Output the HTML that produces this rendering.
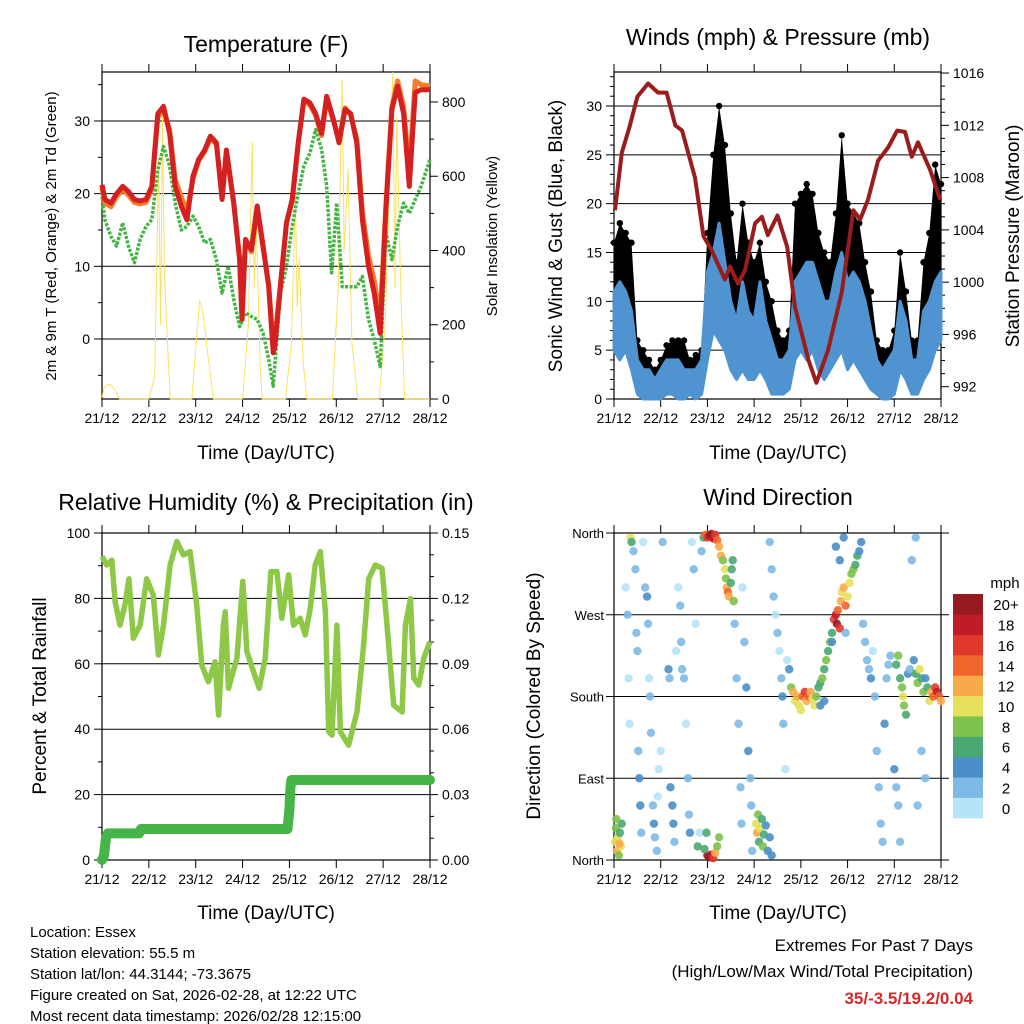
<!DOCTYPE html>
<html><head><meta charset="utf-8"><style>
html,body{margin:0;padding:0;background:#fff;}
svg{display:block;font-family:"Liberation Sans",Arial,sans-serif;}
</style></head><body>
<svg id="chart" width="1024" height="1024" viewBox="0 0 1024 1024" xmlns="http://www.w3.org/2000/svg"></svg>
<script>
// ---------- DATA ----------
const dayLabels = ["21/12","22/12","23/12","24/12","25/12","26/12","27/12","28/12"];
// Temperature (F)
const tempHours = [0,1.5,4.6,7.5,10.6,13.5,16.6,19.5,22.6,25.5,28.6,31.5,34.6,37.5,40.6,43.5,46.6,49.5,52.6,55.5,58.6,61.5,63.7,67.5,70.5,71.7,73.5,76.5,79.5,82.5,85.4,87.7,88.5,91.4,94.5,97.4,100.5,103.4,106.5,109.4,112.5,115.1,118.5,121.4,124.5,127.4,130.5,133.4,136.5,139.4,142.5,145.4,148.5,151.4,154.5,157.4,160.4,163.4,168];
const temp9m = [21.2,19.2,18.7,20,21,20.3,19.2,19,19.2,21,31,32,28.3,21,18.3,16.4,22.4,24.7,26,27.9,27,19.2,26,18.7,10.9,2.7,13.7,12.3,18.3,12.8,7.2,-1.9,-1,7.2,16,19.2,27,33,32.5,31,28.3,33.4,30.2,27,31.6,31,27,16.4,10,6.3,0.8,17.8,31.6,34.8,31,21,33.9,34.3,34.3];
const temp2m = [20.8,18.7,18.2,19.6,20.6,19.8,18.8,18.6,18.8,20.6,30.5,31.5,28.8,22,19.5,17.5,22,24.5,25.8,27.6,26.8,19.5,25.8,18.5,11.2,3.5,13.5,12,18,12.5,7.5,-1,0,7.5,16,19,26.8,32.8,32.2,30.8,28,33,30,27.5,31.8,30.8,27.5,17.5,11.5,8,3,18.5,32,35.5,32,23,35.5,35,34.8];
const dewHours = [0,1.5,4.6,7.5,10.6,13.5,16.6,19.5,22.6,25.5,28.6,31.5,34.6,37.5,40.6,43.5,46.6,49.5,52.6,55.5,58.6,61.5,64.6,67.5,70.5,73.5,76.5,79.5,82.5,85.4,87.7,91.4,94.5,97.4,100.5,103.4,106.5,109.4,112.5,115.1,117.6,120.2,123.1,126.2,130.5,133.4,136.5,139.4,142.5,145.4,148.5,151.4,154.5,157.4,160.4,163.4,168];
const dewPoint = [19.6,16.4,14.1,12.8,16,12.8,10.5,13.7,15.5,16.4,23.3,26.5,23.8,18.7,15,15.5,16.9,15.5,13.2,13.7,10.9,6.3,10,5.4,1.7,3.6,3.1,2.7,0.8,-2.8,-6.5,6.3,10,15.5,20.1,23.8,25.6,28.8,26.1,21,9.1,18.7,7.2,7.2,7.2,8.6,2.7,-0.1,-3.8,14.6,10.9,15.5,18.7,17.3,19.2,21,24.7];
const solarHours = [0,1,3,5,7,9,24,27,29,30,31,32,34,35,46,50,51,52,54,57,72,75,77,78,79,81,82,94,97,99,100,101,103,105,118,121,123,124,126,128,131,142,145,149,150,151,153,155,168];
const solarValues = [5,30,40,35,20,0,0,60,640,200,760,330,100,0,0,265,250,220,130,0,0,200,690,300,480,100,0,0,150,545,250,380,100,0,0,300,860,400,620,150,0,0,200,880,300,760,300,0,0];
const tempTicks = [0,10,20,30];
const solarTicks = [0,200,400,600,800];
// Winds & pressure
const windHours = [0,3,6,9,12,15,18,21,24,27,30,33,36,39,42,45,48,51,54,57,60,63,66,69,72,75,78,81,84,87,90,93,96,99,102,105,108,111,114,117,120,123,126,129,132,135,138,141,144,147,150,153,156,159,162,165,168];
const sonicLow = [5,4,5,3,0.5,0,0,0,0,0.5,0.5,0,0,0.5,0,0.5,4,7,6,5,3,2,3,2,2,3,2,0.5,0.5,0.5,1,4,5,4,5,3,2,3,4,5,3,4,3,2,1,0.5,0,0,0.5,3,2,0.5,0.5,2,3,5,6];
const sonicHigh = [11,12,11,9,4,3,3,2,3,4,4,4,3,3,3,4,13,15,18,14,10,8,12,9,8,12,8,6,4,4,5,12,13,14,14,12,10,10,13,15,12,13,12,10,7,4,3,4,5,10,8,4,4,9,10,12,13];
const gustHigh = [16,18,17,16,6,5,4,3,4,5.5,6,6,6,4,4.5,5,17,25,30,26,19,14,20,16,14,16,12,10,7,6,7,20,21,22,21,17,15,14,19,27,20,19,18,14,11,6,5,5,7,15,11,6,6,14,17,24,22];
const pressHours = [0.5,4,8,12,17.5,22.6,27,31.5,35,41.6,46,50,57,59.6,63.7,67.3,72.5,76,79,84,89,93,100,104,110,117,123,126.5,130.5,135.7,140.8,145.5,149.5,153,156.2,162.4,167.6];
const pressure = [1005.5,1009.9,1011.9,1014.2,1015.2,1014.5,1014.5,1012,1011.6,1008,1003.5,1002.5,1000.2,1001.2,999.9,1000.9,1004.5,1005,1003.6,1005.1,1002.7,998.1,994,992.3,994.8,999.2,1005.5,1004.8,1006.3,1009.3,1010.3,1011.6,1011.5,1009.6,1010.7,1008.6,1006.3];
const windTicks = [0,5,10,15,20,25,30];
const pressTicks = [992,996,1000,1004,1008,1012,1016];
// RH & precip
const rhHours = [0,2.4,5,6.7,9.2,11.8,13.8,16.1,19.5,22.9,26.3,28.9,31.5,34.9,38.3,41.7,45.1,48.5,51.1,54.5,57.9,59.7,62.2,63.1,64.8,69.1,72.1,74.2,77.6,80.5,83.6,86.5,89.6,92.1,95.6,98.1,101.5,104.1,106.7,109.2,111.8,114.4,116.1,117.8,120.3,122.1,126.3,130.6,134,136.6,140,143.4,146,149.4,153.7,155.4,158,159.7,162.2,164.8,168];
const rhValues = [92.8,90.2,91.7,79,71.8,78,86,67.8,71.8,86,81,62.7,71.8,90.2,97.4,93.3,94.3,78,59.6,54.5,60.6,44.3,71.8,75.9,52.5,61.7,85.2,63.7,57.6,52.5,61.7,88.2,88.2,73.9,87.2,71.8,73.9,68.8,77,90.2,94.3,75.9,39.2,38.2,71.8,39.2,35.1,45.3,65.7,86,90.2,89.2,71.8,47.3,45.3,71.8,79.9,55.6,53.5,61.7,66.8];
const precipHours = [0,1,2,3,19,20,95,95.5,96,96.5,97,168];
const precipValues = [0,0.002,0.010,0.0122,0.0122,0.0142,0.0142,0.019,0.023,0.033,0.0367,0.0367];
const rhTicks = [0,20,40,60,80,100];
const precipTicks = ["0.00","0.03","0.06","0.09","0.12","0.15"];
// Wind direction (deg, 0=N) colored by speed
const dirHours = [0.5,1,1.5,2,2.5,3,3.5,4,1.2,2.8,8.5,9,
6,7,7.5,8,10,11,11.5,12,12.5,13,13.5,14,15,16,17,17.5,18,18.5,19,20,20.5,21,22,22.5,23,24,25,28,28.5,29,30,30.5,31,32,33,34,34.5,35,36,37,38,38.5,39,40,41,42,43,44,45,46,
47,48,49,50,50.5,51,52,53,54,55,48,49,50,51,52,53,54,46.5,47.5,
56,57,57.5,58,58.5,59,60,60.5,61,61.5,
62,63,64,65,65.5,66,67,68,69,70,70.5,71,
73,73.5,74,74.5,75,76,76.5,77,78,79,80,81,
80,81,82,83,84,85,86,86.5,87,88,89,90,
91,92,93,94,95,96,97,98,99,100,101,102,103,104,105,106,107,108,109,110,111,112,106,108,
113,114,114.5,115,116,116.5,117,118,119,120,121,122,123,124,125,126,127,114,116,118,119,112,
128,129,130,131,132,133,134,135,136,137,138,139,140,141,142,144,145,146,147,
145,146,147,148,148.5,149,150,151,152,
154,155,156,157,158,159,160,161,162,163,164,165,166,167,168,158,160,156,155,153];
const dirDegrees = [20,35,10,25,5,30,15,40,45,18,355,350,
300,270,200,150,340,320,250,230,120,90,60,30,350,300,290,260,200,180,140,60,40,25,10,70,100,120,350,210,200,80,60,40,20,230,300,280,240,210,200,150,90,50,30,350,320,260,15,30,340,355,
358,355,357,359,356,354,358,352,345,335,5,3,6,2,8,15,25,12,30,
330,320,310,300,295,290,305,320,330,285,
260,200,150,80,40,300,240,190,120,90,60,10,
40,30,50,20,35,45,15,28,38,10,25,5,
350,320,290,270,250,230,200,180,150,100,220,210,
190,185,175,180,170,165,180,185,175,180,185,178,170,180,190,195,200,210,220,230,240,250,170,175,
265,270,260,275,255,285,295,300,280,290,305,315,320,325,335,340,350,345,330,355,250,240,
260,240,220,210,200,230,180,120,80,40,20,150,200,215,225,100,80,60,20,
215,225,200,190,180,170,160,205,210,
220,205,195,210,200,185,200,190,175,185,180,190,185,180,175,120,90,60,355,330];
const dirSpeeds = [10,8,12,11,9,7,10,6,8,12,10,7,
1,2,1,0,2,3,3,2,2,4,4,3,1,3,4,2,1,2,2,3,4,3,2,1,1,1,3,4,3,4,4,4,2,1,1,2,3,2,3,1,2,3,4,1,2,1,6,1,3,6,
14,16,18,20,20,18,16,14,12,12,20,20,18,16,12,8,8,6,6,
8,10,8,12,14,12,6,6,6,8,
3,2,2,3,3,1,3,4,4,3,3,2,
10,12,8,6,10,6,8,6,4,5,5,4,
2,3,2,1,2,1,3,4,2,1,1,4,
8,12,10,12,10,10,14,16,12,14,12,10,10,8,6,6,8,6,8,6,8,6,4,4,
16,18,20,14,16,12,10,12,14,10,10,8,8,6,6,4,4,4,4,4,3,4,
2,2,3,2,4,1,2,2,2,3,3,4,2,3,2,4,3,2,2,
6,8,6,8,10,8,6,4,3,
4,6,8,10,6,8,4,6,10,12,14,16,18,14,12,2,3,2,2,2];
const dirTicks = ["North","East","South","West","North"];
const speedBinLabels = ["0","2","4","6","8","10","12","14","16","18","20+"];
const speedColors = ["#b6e3f8","#7ebae5","#4a8fc8","#4aa873","#7dc24d","#e6e15b","#f8aa4a","#f0652d","#e0382c","#c01c28","#961a20"];

// ---------- HELPERS ----------
const NS = "http://www.w3.org/2000/svg";
const svg = document.getElementById("chart");
function mk(tag, attrs, parent){const e=document.createElementNS(NS,tag);for(const k in attrs)e.setAttribute(k,attrs[k]);(parent||svg).appendChild(e);return e;}
function txt(s, x, y, size, anchor, extra, parent){const e=mk("text",Object.assign({x:x,y:y,"font-size":size,"text-anchor":anchor||"middle",fill:"#000"},extra||{}),parent);e.textContent=s;return e;}
function panel(x0,x1,y0,y1,lmin,lmax,rmin,rmax){return {x0,x1,y0,y1,lmin,lmax,rmin,rmax,
  x:t=>x0+t/168*(x1-x0),
  yl:v=>y1-(v-lmin)/(lmax-lmin)*(y1-y0),
  yr:v=>y1-(v-rmin)/(rmax-rmin)*(y1-y0)};}
function pathFrom(xs, ys){let d="";for(let i=0;i<xs.length;i++)d+=(i?"L":"M")+xs[i].toFixed(1)+","+ys[i].toFixed(1);return d;}
function frame(p, name){
  const g=mk("g",{});
  
  
  mk("rect",{x:p.x0,y:p.y0,width:p.x1-p.x0,height:p.y1-p.y0,fill:"none",stroke:"#000","stroke-width":1.2},g);
  for(let d=0;d<=7;d++){const x=p.x(d*24);
    mk("line",{x1:x,y1:p.y1,x2:x,y2:p.y1+8,stroke:"#000","stroke-width":1},g);
    mk("line",{x1:x,y1:p.y0,x2:x,y2:p.y0-8,stroke:"#000","stroke-width":1},g);
    const lb=txt(dayLabels[d],x,p.y1+24,14,"middle",{},g);
    
    
  }
  return g;
}
function hgrid(p, ys, g){ys.forEach(y=>mk("line",{x1:p.x0,y1:y,x2:p.x1,y2:y,stroke:"#000","stroke-width":1},g));}
function ytick(x,y,len,g,w){mk("line",{x1:x,y1:y,x2:x+len,y2:y,stroke:"#000","stroke-width":w||1},g);}

// ---------- PANEL 1: TEMPERATURE ----------
const P1 = panel(102,430,72,399,-8.26,36.74,0,880.8);
{
  const g=frame(P1,"temperature");
  hgrid(P1,tempTicks.map(P1.yl),g);
  for(let v=-5;v<=35;v+=5){const y=P1.yl(v);ytick(P1.x0,y,v%10===0?-8:-4,g);}
  tempTicks.forEach(v=>{const t=txt(String(v),P1.x0-12,P1.yl(v)+5,14,"end",{},g);
    
    });
  for(let v=0;v<=850;v+=100){const y=P1.yr(v);ytick(P1.x1,y,v%200===0?8:4,g);}
  solarTicks.forEach(v=>{const t=txt(String(v),P1.x1+12,P1.yr(v)+5,14,"start",{},g);
    
    });
  const sol=mk("path",{d:pathFrom(solarHours.map(P1.x),solarValues.map(P1.yr)),fill:"none",stroke:"#f9e15f","stroke-width":1,"stroke-linejoin":"round"});
  
  
  const dew=mk("path",{d:pathFrom(dewHours.map(P1.x),dewPoint.map(P1.yl)),fill:"none",stroke:"#45b445","stroke-width":3.5,"stroke-dasharray":"3 1.5","stroke-linejoin":"round"});
  
  
  const or=mk("path",{d:pathFrom(tempHours.map(P1.x),temp2m.map(P1.yl)),fill:"none",stroke:"#f47c2a","stroke-width":5,"stroke-linejoin":"round"});
  
  
  const rd=mk("path",{d:pathFrom(tempHours.map(P1.x),temp9m.map(P1.yl)),fill:"none",stroke:"#d42020","stroke-width":5,"stroke-linejoin":"round"});
  
  
  const ti=txt("Temperature (F)",266,52,23,"middle");
  
  
  const xt=txt("Time (Day/UTC)",266,459,19,"middle");
  
  
  const yl=txt("2m & 9m T (Red, Orange) & 2m Td (Green)",0,0,15,"middle",{transform:"translate(56,236) rotate(-90)"});
  
  
  const yr=txt("Solar Insolation (Yellow)",0,0,15,"middle",{transform:"translate(497,236) rotate(-90)"});
  
  
}

// ---------- PANEL 2: WINDS ----------
const P2 = panel(614,941,72,399,0,33.48,991.06,1016.08);
{
  const g=frame(P2,"winds");
  hgrid(P2,windTicks.filter(v=>v>0).map(P2.yl),g);
  for(let v=0;v<=33;v+=1){const y=P2.yl(v);ytick(P2.x0,y,v%5===0?-8:-4,g);}
  windTicks.forEach(v=>{const t=txt(String(v),P2.x0-12,P2.yl(v)+5,14,"end",{},g);
    
    });
  for(let v=992;v<=1016;v+=1){const y=P2.yr(v);ytick(P2.x1,y,v%4===0?8:4,g);}
  pressTicks.forEach(v=>{const t=txt(String(v),P2.x1+12,P2.yr(v)+5,14,"start",{},g);
    
    });
  const xs=windHours.map(P2.x);
  const gb=mk("path",{d:pathFrom(xs,gustHigh.map(P2.yl))+"L"+pathFrom(xs.slice().reverse(),sonicLow.slice().reverse().map(P2.yl)).slice(1)+"Z",fill:"#000"});
  
  
  windHours.forEach((h,i)=>{
    const c=mk("circle",{cx:P2.x(h),cy:P2.yl(gustHigh[i]),r:3.2,fill:"#000"});
    
    
  });
  const bb=mk("path",{d:pathFrom(xs,sonicHigh.map(P2.yl))+"L"+pathFrom(xs.slice().reverse(),sonicLow.slice().reverse().map(P2.yl)).slice(1)+"Z",fill:"#4f94d0",stroke:"#4f94d0","stroke-width":3,"stroke-linejoin":"round"});
  
  
  const pl=mk("path",{d:pathFrom(pressHours.map(P2.x),pressure.map(P2.yr)),fill:"none",stroke:"#9b1c1c","stroke-width":4,"stroke-linejoin":"round"});
  
  
  const ti=txt("Winds (mph) & Pressure (mb)",778,45,23,"middle");
  
  
  const xt=txt("Time (Day/UTC)",778,459,19,"middle");
  
  
  const yl=txt("Sonic Wind & Gust (Blue, Black)",0,0,19,"middle",{transform:"translate(562,236) rotate(-90)"});
  
  
  const yr=txt("Station Pressure (Maroon)",0,0,19,"middle",{transform:"translate(1019,236) rotate(-90)"});
  
  
}

// ---------- PANEL 3: RH & PRECIP ----------
const P3 = panel(102,430,533,860,0,100,0,0.15);
{
  const g=frame(P3,"humidity");
  hgrid(P3,[20,40,60,80].map(P3.yl),g);
  for(let v=0;v<=100;v+=10){ytick(P3.x0,P3.yl(v),v%20===0?-8:-4,g);}
  rhTicks.forEach(v=>{const t=txt(String(v),P3.x0-12,P3.yl(v)+5,14,"end",{},g);
    
    });
  for(let i=0;i<=15;i++){ytick(P3.x1,P3.yr(i/100),i%3===0?8:4,g);}
  precipTicks.forEach(s=>{const t=txt(s,P3.x1+12,P3.yr(parseFloat(s))+5,14,"start",{},g);
    
    });
  const rh=mk("path",{d:pathFrom(rhHours.map(P3.x),rhValues.map(P3.yl)),fill:"none",stroke:"#8dc846","stroke-width":5.5,"stroke-linejoin":"round"});
  
  
  const pr=mk("path",{d:pathFrom(precipHours.map(P3.x),precipValues.map(P3.yr)),fill:"none",stroke:"#46b549","stroke-width":10,"stroke-linejoin":"round","stroke-linecap":"round"});
  
  
  const ti=txt("Relative Humidity (%) & Precipitation (in)",266,510,23,"middle");
  
  
  const xt=txt("Time (Day/UTC)",266,919,19,"middle");
  
  
  const yl=txt("Percent & Total Rainfall",0,0,19,"middle",{transform:"translate(46,696) rotate(-90)"});
  
  
}

// ---------- PANEL 4: WIND DIRECTION ----------
const P4 = panel(614,941,533,860,0,360,0,360);
{
  const g=frame(P4,"wind-direction");
  hgrid(P4,[90,180,270].map(P4.yl),g);
  dirTicks.forEach((s,i)=>{const y=P4.yl(i*90);ytick(P4.x0,y,-8,g);ytick(P4.x1,y,8,g);
    const t=txt(s,P4.x0-10,y+5,13,"end",{},g);
    
    });
  dirHours.forEach((h,i)=>{
    const bin=Math.min(10,Math.floor(dirSpeeds[i]/2));
    const c=mk("circle",{cx:P4.x(h),cy:P4.yl(dirDegrees[i]),r:4.2,fill:speedColors[bin],"fill-opacity":0.9});
    
    
  });
  const ti=txt("Wind Direction",778,505,23,"middle");
  
  
  const xt=txt("Time (Day/UTC)",778,919,19,"middle");
  
  
  const yl=txt("Direction (Colored By Speed)",0,0,19,"middle",{transform:"translate(540,696) rotate(-90)"});
  
  
  // colorbar
  const cb=mk("g",{});
  
  
  const bh=(818-594)/11;
  speedColors.forEach((c,i)=>{const y=818-(i+1)*bh;
    const r=mk("rect",{x:953,y:y,width:30,height:bh+0.3,fill:c},cb);
    
    
    const t=txt(speedBinLabels[i],1006,y+bh/2+6,15,"middle",{},cb);
    
    });
  const u=txt("mph",1005,588,15,"middle",{},cb);
  
  
}

// ---------- FOOTER ----------
{
  const info=["Location: Essex","Station elevation: 55.5 m","Station lat/lon: 44.3144; -73.3675","Figure created on Sat, 2026-02-28, at 12:22 UTC","Most recent data timestamp: 2026/02/28 12:15:00"];
  info.forEach((s,i)=>{const t=txt(s,30,937+i*21,15,"start");
    
    });
  const a=txt("Extremes For Past 7 Days",973,951,17,"end");
  
  
  const b=txt("(High/Low/Max Wind/Total Precipitation)",973,977,17,"end");
  
  
  const c=txt("35/-3.5/19.2/0.04",973,1004,17,"end",{fill:"#d42a2a","font-weight":"bold"});
  
  
}
</script>
</body></html>
